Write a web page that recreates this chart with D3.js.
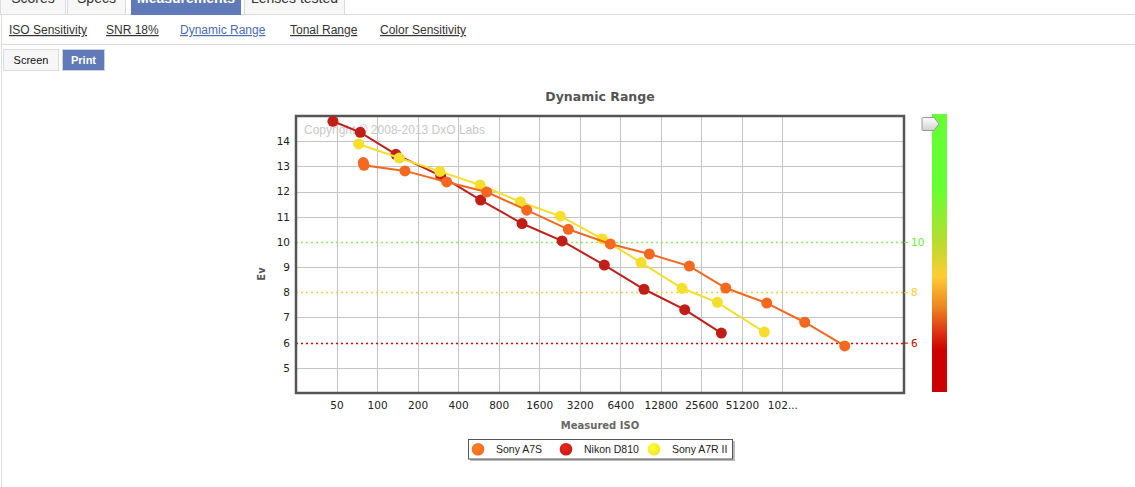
<!DOCTYPE html>
<html>
<head>
<meta charset="utf-8">
<script src="https://cdn.jsdelivr.net/npm/d3@7"></script>
<style>
body { margin: 0; background: #fff; overflow: hidden; }
svg { display: block; }
</style>
</head>
<body>
<script>
// nav texts
var tabLabels = ["Scores", "Specs", "Measurements", "Lenses tested"];
var subLinks = ["ISO Sensitivity", "SNR 18%", "Dynamic Range", "Tonal Range", "Color Sensitivity"];
var modeButtons = ["Screen", "Print"];

// axis ticks
var isoTicks = [50, 100, 200, 400, 800, 1600, 3200, 6400, 12800, 25600, 51200, 102400];
var isoLabels = ["50", "100", "200", "400", "800", "1600", "3200", "6400", "12800", "25600", "51200", "102..."];
var evTicks = [5, 6, 7, 8, 9, 10, 11, 12, 13, 14];
var thresholdEv = [10, 8, 6];

// series
var seriesNames = ["Sony A7S", "Nikon D810", "Sony A7R II"];
var sonyA7sIso = [79, 80, 161, 329, 652, 1293, 2632, 5400, 10520, 20850, 38850, 78370, 150000, 297300];
var sonyA7sEv = [13.15, 13.04, 12.82, 12.38, 11.98, 11.26, 10.50, 9.92, 9.52, 9.04, 8.17, 7.57, 6.81, 5.87];
var nikonD810Iso = [47, 75, 138, 297, 588, 1193, 2365, 4874, 9610, 19270, 36050];
var nikonD810Ev = [14.79, 14.35, 13.48, 12.62, 11.66, 10.73, 10.04, 9.08, 8.12, 7.31, 6.38];
var sonyA7r2Iso = [73, 146, 293, 582, 1159, 2296, 4709, 9130, 18410, 33660, 75170];
var sonyA7r2Ev = [13.89, 13.33, 12.80, 12.26, 11.59, 11.02, 10.12, 9.18, 8.16, 7.60, 6.42];

// layout / style
var W = 1135, H = 487;
var plot = { left: 296, top: 116, right: 904, bottom: 393 };
var seriesColors = ["#f5681f", "#c21e18", "#f5df2c"];
var thresholdColors = ["#88ee66", "#f9cc44", "#dd0000"];
var thresholdText = ["#66ee33", "#ffcc33", "#cc0000"];
var tabX = [[0, 66], [67, 126], [131, 241], [244, 345]];
var linkX = [9, 106, 180, 290, 380];
var buttonX = [[3, 58], [62, 104]];

var svg = d3.select("body").append("svg")
  .attr("width", W)
  .attr("height", H);

var defs = svg.append("defs");

// ---- page chrome ----
var chrome = svg.append("g").attr("font-family", "'Liberation Sans', Arial, sans-serif");

chrome.append("line").attr("x1", 0).attr("x2", W).attr("y1", 14.5).attr("y2", 14.5).attr("stroke", "#dcdcdc");
chrome.append("line").attr("x1", 2).attr("x2", W).attr("y1", 44.5).attr("y2", 44.5).attr("stroke", "#dcdcdc");
chrome.append("line").attr("x1", 1.5).attr("x2", 1.5).attr("y1", 14).attr("y2", H).attr("stroke", "#dcdcdc");

var tabs = chrome.selectAll(".tab").data(tabLabels).enter().append("g").attr("class", "tab");
tabs.append("rect")
  .attr("x", function(d, i) { return tabX[i][0] + 0.5; })
  .attr("y", -10)
  .attr("width", function(d, i) { return tabX[i][1] - tabX[i][0] - 1; })
  .attr("height", 24.5)
  .attr("fill", function(d, i) { return i == 2 ? "#6079b8" : "#f7f7f7"; })
  .attr("stroke", function(d, i) { return i == 2 ? "#6079b8" : "#dcdcdc"; });
tabs.append("text")
  .attr("x", function(d, i) { return (tabX[i][0] + tabX[i][1]) / 2; })
  .attr("y", 3)
  .attr("text-anchor", "middle")
  .attr("font-size", 14)
  .attr("font-weight", function(d, i) { return i == 2 ? "bold" : "normal"; })
  .attr("fill", function(d, i) { return i == 2 ? "#fff" : "#333"; })
  .text(function(d) { return d; });

var links = chrome.selectAll(".link").data(subLinks).enter().append("text")
  .attr("class", "link")
  .attr("x", function(d, i) { return linkX[i]; })
  .attr("y", 34)
  .attr("font-size", 12)
  .attr("text-decoration", "underline")
  .attr("fill", function(d, i) { return i == 2 ? "#4a6cb3" : "#333"; })
  .text(function(d) { return d; });

var btns = chrome.selectAll(".btn").data(modeButtons).enter().append("g").attr("class", "btn");
btns.append("rect")
  .attr("x", function(d, i) { return buttonX[i][0] + 0.5; })
  .attr("y", 49.5)
  .attr("width", function(d, i) { return buttonX[i][1] - buttonX[i][0]; })
  .attr("height", 21)
  .attr("fill", function(d, i) { return i == 1 ? "#6079b8" : "#f6f6f6"; })
  .attr("stroke", function(d, i) { return i == 1 ? "#c8d0e4" : "#dcdcdc"; });
btns.append("text")
  .attr("x", function(d, i) { return (buttonX[i][0] + buttonX[i][1]) / 2 + 0.5; })
  .attr("y", 63.5)
  .attr("text-anchor", "middle")
  .attr("font-size", 11)
  .attr("font-weight", function(d, i) { return i == 1 ? "bold" : "normal"; })
  .attr("fill", function(d, i) { return i == 1 ? "#fff" : "#111"; })
  .text(function(d) { return d; });

// ---- chart ----
var x = d3.scaleLog().base(2).domain([25, 819200]).range([plot.left, plot.right]);
var y = d3.scaleLinear().domain([4, 15]).range([plot.bottom, plot.top]);

var chart = svg.append("g").attr("font-family", "'DejaVu Sans', Verdana, sans-serif");

chart.append("text")
  .attr("x", (plot.left + plot.right) / 2)
  .attr("y", 101)
  .attr("text-anchor", "middle")
  .attr("font-size", 12.5)
  .attr("font-weight", "bold")
  .attr("fill", "#555")
  .text("Dynamic Range");

// grid
chart.append("g").selectAll("line").data(isoTicks).enter().append("line")
  .attr("x1", function(d) { return Math.round(x(d)) + 0.5; })
  .attr("x2", function(d) { return Math.round(x(d)) + 0.5; })
  .attr("y1", plot.top).attr("y2", plot.bottom)
  .attr("stroke", "#c4c4c4");
chart.append("g").selectAll("line").data(evTicks).enter().append("line")
  .attr("x1", plot.left).attr("x2", plot.right)
  .attr("y1", function(d) { return Math.round(y(d)) + 0.5; })
  .attr("y2", function(d) { return Math.round(y(d)) + 0.5; })
  .attr("stroke", function(d) { return thresholdEv.indexOf(d) >= 0 ? "none" : "#c4c4c4"; });

// threshold dotted lines
chart.append("g").selectAll("line").data(thresholdEv).enter().append("line")
  .attr("x1", plot.left).attr("x2", plot.right)
  .attr("y1", function(d) { return Math.round(y(d)) + 0.5; })
  .attr("y2", function(d) { return Math.round(y(d)) + 0.5; })
  .attr("stroke", function(d, i) { return thresholdColors[i]; })
  .attr("stroke-width", 1.3)
  .attr("stroke-dasharray", "2,3");

chart.append("text")
  .attr("x", 304).attr("y", 134)
  .attr("font-family", "'Liberation Sans', Arial, sans-serif")
  .attr("font-size", 12)
  .attr("fill", "#c8c8c8")
  .text("Copyright \u00a9 2008-2013 DxO Labs");

// frame
chart.append("rect")
  .attr("x", plot.left).attr("y", plot.top)
  .attr("width", plot.right - plot.left).attr("height", plot.bottom - plot.top)
  .attr("fill", "none").attr("stroke", "#555").attr("stroke-width", 2.5);

// axes
var xAxis = d3.axisBottom(x).tickValues(isoTicks).tickSize(0).tickPadding(9)
  .tickFormat(function(d, i) { return isoLabels[i]; });
var gx = chart.append("g").attr("transform", "translate(0," + plot.bottom + ")").call(xAxis);
var yAxis = d3.axisLeft(y).tickValues(evTicks).tickSize(0).tickPadding(6);
var gy = chart.append("g").attr("transform", "translate(" + plot.left + ",0)").call(yAxis);
var yRight = d3.axisRight(y).tickValues(thresholdEv).tickSize(4).tickPadding(3);
var gr = chart.append("g").attr("transform", "translate(" + plot.right + ",0)").call(yRight);
[gx, gy, gr].forEach(function(g) {
  g.select(".domain").remove();
  g.selectAll("text").attr("font-family", "'DejaVu Sans', Verdana, sans-serif").attr("font-size", 10.5).attr("fill", "#222");
});
gr.selectAll(".tick text").attr("fill", function(d, i) { return thresholdText[i]; });
gr.selectAll(".tick line").attr("stroke", function(d, i) { return thresholdText[i]; });

chart.append("text")
  .attr("x", (plot.left + plot.right) / 2).attr("y", 429)
  .attr("text-anchor", "middle")
  .attr("font-size", 10).attr("font-weight", "bold").attr("fill", "#666")
  .text("Measured ISO");
chart.append("text")
  .attr("transform", "translate(265,274) rotate(-90)")
  .attr("text-anchor", "middle")
  .attr("font-size", 10).attr("font-weight", "bold").attr("fill", "#555")
  .text("Ev");

// colour bar
var grad = defs.append("linearGradient").attr("id", "bar").attr("x1", 0).attr("x2", 0).attr("y1", 0).attr("y2", 1);
[[0, "#66ff33"], [0.27, "#66ff33"], [0.46, "#b8dc2e"], [0.585, "#ffcc33"], [0.69, "#ee8822"], [0.785, "#dd3311"], [0.85, "#cc0000"], [1, "#cc0000"]]
  .forEach(function(s) { grad.append("stop").attr("offset", s[0]).attr("stop-color", s[1]); });
chart.append("rect").attr("x", 932).attr("y", 114).attr("width", 15).attr("height", 278).attr("fill", "url(#bar)");

var thumbGrad = defs.append("linearGradient").attr("id", "thumb").attr("x1", 0).attr("x2", 0).attr("y1", 0).attr("y2", 1);
thumbGrad.append("stop").attr("offset", 0).attr("stop-color", "#ffffff");
thumbGrad.append("stop").attr("offset", 1).attr("stop-color", "#d0d0d0");
chart.append("path")
  .attr("d", "M923,117.5 L934,117.5 L939,124 L934,130.5 L923,130.5 Q922,130.5 922,129.5 L922,118.5 Q922,117.5 923,117.5 Z")
  .attr("fill", "url(#thumb)").attr("stroke", "#9a9a9a");

// series
var seriesData = [
  d3.zip(sonyA7sIso, sonyA7sEv),
  d3.zip(nikonD810Iso, nikonD810Ev),
  d3.zip(sonyA7r2Iso, sonyA7r2Ev)
];
var line = d3.line().x(function(d) { return x(d[0]); }).y(function(d) { return y(d[1]); });
var drawOrder = [1, 2, 0];
drawOrder.forEach(function(s) {
  var g = chart.append("g");
  g.append("path").datum(seriesData[s])
    .attr("d", line).attr("fill", "none")
    .attr("stroke", seriesColors[s]).attr("stroke-width", 2);
  g.selectAll("circle").data(seriesData[s]).enter().append("circle")
    .attr("cx", function(d) { return x(d[0]); })
    .attr("cy", function(d) { return y(d[1]); })
    .attr("r", 5.5)
    .attr("fill", seriesColors[s]);
});

// legend
var lg = chart.append("g").attr("font-family", "'Liberation Sans', Arial, sans-serif");
lg.append("rect").attr("x", 470).attr("y", 441).attr("width", 265).attr("height", 20).attr("fill", "#bbb");
lg.append("rect").attr("x", 468.5).attr("y", 439.5).attr("width", 264).attr("height", 19.5)
  .attr("fill", "#fff").attr("stroke", "#555");
var legX = [478, 566, 654];
seriesNames.forEach(function(name, i) {
  var rg = defs.append("radialGradient").attr("id", "lg" + i).attr("cx", 0.4).attr("cy", 0.35).attr("r", 0.7);
  rg.append("stop").attr("offset", 0).attr("stop-color", d3.color(seriesColors[i]).brighter(0.6));
  rg.append("stop").attr("offset", 1).attr("stop-color", seriesColors[i]);
  lg.append("circle").attr("cx", legX[i]).attr("cy", 449.3).attr("r", 6.3).attr("fill", "url(#lg" + i + ")");
  lg.append("text").attr("x", legX[i] + 18).attr("y", 452.5)
    .attr("font-size", 10.5).attr("fill", "#222").text(name);
});
</script>
</body>
</html>
